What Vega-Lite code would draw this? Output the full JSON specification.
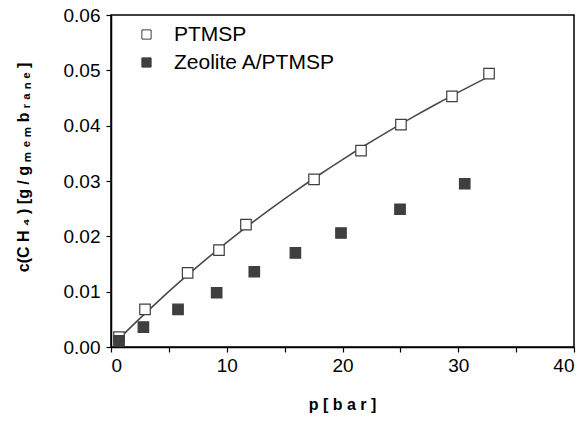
{
  "$schema": "https://vega.github.io/schema/vega-lite/v6.json",
  "autosize": "none",
  "width": 463,
  "height": 332,
  "padding": {"left": 111, "top": 15, "right": 11, "bottom": 76},
  "background": "white",
  "config": {
    "font": "Liberation Sans",
    "view": {"stroke": "black", "strokeWidth": 1.5},
    "axis": {
      "domainColor": "black", "domainWidth": 1.5, "tickColor": "black", "tickWidth": 1.2,
      "grid": false, "labelFont": "Liberation Sans", "labelFontSize": 19, "labelColor": "black",
      "titleFont": "Liberation Sans", "titleFontSize": 16, "titleFontWeight": "bold", "titleColor": "black"
    }
  },
  "datasets": {
    "pts": [
      {"series": "PTMSP", "p": 0.69, "c": 0.0018},
      {"series": "PTMSP", "p": 2.94, "c": 0.0068},
      {"series": "PTMSP", "p": 6.62, "c": 0.0134},
      {"series": "PTMSP", "p": 9.33, "c": 0.0175},
      {"series": "PTMSP", "p": 11.66, "c": 0.0221},
      {"series": "PTMSP", "p": 17.54, "c": 0.0303},
      {"series": "PTMSP", "p": 21.6, "c": 0.0355},
      {"series": "PTMSP", "p": 25.05, "c": 0.0402},
      {"series": "PTMSP", "p": 29.46, "c": 0.0453},
      {"series": "PTMSP", "p": 32.66, "c": 0.0494},
      {"series": "Zeolite A/PTMSP", "p": 0.69, "c": 0.0011},
      {"series": "Zeolite A/PTMSP", "p": 2.8, "c": 0.0036},
      {"series": "Zeolite A/PTMSP", "p": 5.79, "c": 0.0068},
      {"series": "Zeolite A/PTMSP", "p": 9.13, "c": 0.0098},
      {"series": "Zeolite A/PTMSP", "p": 12.38, "c": 0.0136},
      {"series": "Zeolite A/PTMSP", "p": 15.93, "c": 0.017},
      {"series": "Zeolite A/PTMSP", "p": 19.87, "c": 0.0206},
      {"series": "Zeolite A/PTMSP", "p": 24.97, "c": 0.0249},
      {"series": "Zeolite A/PTMSP", "p": 30.56, "c": 0.0295}
    ],
    "fit": [
      {"p": 0.3, "c": 0.00064},
      {"p": 2, "c": 0.00417},
      {"p": 4, "c": 0.00812},
      {"p": 6, "c": 0.01189},
      {"p": 8, "c": 0.01547},
      {"p": 10, "c": 0.0189},
      {"p": 12, "c": 0.02216},
      {"p": 14, "c": 0.02528},
      {"p": 16, "c": 0.02827},
      {"p": 18, "c": 0.03113},
      {"p": 20, "c": 0.03387},
      {"p": 22, "c": 0.0365},
      {"p": 24, "c": 0.03902},
      {"p": 26, "c": 0.04145},
      {"p": 28, "c": 0.04378},
      {"p": 30, "c": 0.04602},
      {"p": 32.6, "c": 0.04882}
    ]
  },
  "layer": [
    {
      "data": {"name": "fit"},
      "mark": {"type": "line", "color": "#4a4a4a", "strokeWidth": 1.6, "interpolate": "monotone"},
      "encoding": {
        "x": {"field": "p", "type": "quantitative", "scale": {"domain": [0, 40], "nice": false},
          "axis": {"orient": "bottom", "values": [0, 5, 10, 15, 20, 25, 30, 35, 40], "labelExpr": "datum.value % 10 === 0 ? datum.label : ''", "tickSize": 5, "labelPadding": 4,
            "title": "p  [ b a r ]", "titleX": 231, "titleY": 57, "titleBaseline": "middle"}},
        "y": {"field": "c", "type": "quantitative", "scale": {"domain": [0, 0.06], "nice": false},
          "axis": {"orient": "left", "values": [0, 0.005, 0.01, 0.015, 0.02, 0.025, 0.03, 0.035, 0.04, 0.045, 0.05, 0.055, 0.06], "labelExpr": "round(datum.value * 1000) % 10 === 0 ? format(datum.value, '.2f') : ''", "tickSize": 5, "labelPadding": 6,
            "title": "c(C H ₄ ) [g / g ₘ ₑ ₘ b ᵣ ₐ ₙ ₑ ]", "titleX": -88, "titleY": 152, "titleBaseline": "middle", "titleAngle": -90}}
      }
    },
    {
      "data": {"name": "pts"},
      "mark": {"type": "point", "shape": "square", "size": 110, "filled": false, "stroke": "#3f3f3f", "strokeWidth": 1.2, "opacity": 1},
      "encoding": {
        "x": {"field": "p", "type": "quantitative"},
        "y": {"field": "c", "type": "quantitative"},
        "fill": {"field": "series", "type": "nominal",
          "scale": {"domain": ["PTMSP", "Zeolite A/PTMSP"], "range": ["white", "#3f3f3f"]},
          "legend": {"title": null, "orient": "none", "legendX": 25, "legendY": 9, "padding": 0,
            "symbolType": "square", "symbolSize": 85, "symbolStrokeColor": "#3f3f3f", "symbolStrokeWidth": 1,
            "labelFontSize": 21, "labelFont": "Liberation Sans", "labelColor": "black", "labelOffset": 17, "labelLimit": 400, "rowPadding": 6}}
      }
    }
  ]
}
